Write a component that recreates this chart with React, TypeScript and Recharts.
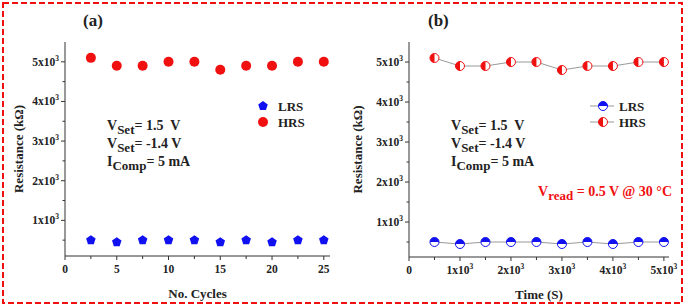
import { ScatterChart, Scatter, XAxis, YAxis } from 'recharts'

// panel (a): resistance vs. switching cycle
const cycles = [2.5, 5, 7.5, 10, 12.5, 15, 17.5, 20, 22.5, 25]
const lrsCycle = [500, 450, 500, 500, 500, 450, 500, 450, 500, 500]
const hrsCycle = [5100, 4900, 4900, 5000, 5000, 4800, 4900, 4900, 5000, 5000]

// panel (b): retention vs. time
const times = [500, 1000, 1500, 2000, 2500, 3000, 3500, 4000, 4500, 5000]
const lrsTime = [500, 450, 500, 500, 500, 450, 500, 450, 500, 500]
const hrsTime = [5100, 4900, 4900, 5000, 5000, 4800, 4900, 4900, 5000, 5000]

const yTicks = [500, 1000, 1500, 2000, 2500, 3000, 3500, 4000, 4500, 5000]
const cycleTicks = [0, 2.5, 5, 7.5, 10, 12.5, 15, 17.5, 20, 22.5, 25]
const timeTicks = [0, 500, 1000, 1500, 2000, 2500, 3000, 3500, 4000, 4500, 5000]

const FONT = '"Liberation Serif", "Times New Roman", serif'
const AXIS = '#333'
const RED = '#f01010'
const BLUE = '#1010f0'

const toPts = (xs: number[], ys: number[]) => xs.map((x, i) => ({ x, y: ys[i] }))

function Pow({ n, size = 11.5 }: { n: string; size?: number }) {
  return (
    <>
      {n}x10<tspan dy={-5} fontSize={size * 0.65}>3</tspan>
    </>
  )
}

function YTick({ x, y, payload }: any) {
  const v = payload.value
  const major = v % 1000 === 0
  return (
    <g>
      <line x1={x} x2={x - (major ? 4 : 2.5)} y1={y} y2={y} stroke={AXIS} />
      {major && (
        <text x={x - 6} y={y + 4} textAnchor="end" fontFamily={FONT} fontWeight="bold" fontSize={11.5} fill="#222">
          <Pow n={String(v / 1000)} />
        </text>
      )}
    </g>
  )
}

function makeXTick(step: number, pow: boolean) {
  return function XTick({ x, y, payload }: any) {
    const v = payload.value
    const major = v % step === 0
    return (
      <g>
        <line x1={x} x2={x} y1={y} y2={y + (major ? 4 : 3)} stroke={AXIS} />
        {major && (
          <text x={x} y={y + 17} textAnchor="middle" fontFamily={FONT} fontWeight="bold" fontSize={11.5} fill="#222">
            {pow && v !== 0 ? <Pow n={String(v / 1000)} /> : String(v)}
          </text>
        )}
      </g>
    )
  }
}

const yLabel = (dx: number) => (p: any) => {
  const vb = p.viewBox
  const cx = vb.x + dx
  const cy = vb.y + vb.height / 2
  return (
    <text x={cx} y={cy} transform={`rotate(-90 ${cx} ${cy})`} textAnchor="middle" dominantBaseline="central"
      fontFamily={FONT} fontWeight="bold" fontSize={13} fill="#222">
      Resistance (kΩ)
    </text>
  )
}

function Pentagon({ cx, cy }: any) {
  const r = 5
  const pts = [0, 1, 2, 3, 4]
    .map((i) => {
      const a = -Math.PI / 2 + (i * 2 * Math.PI) / 5
      return `${cx + r * Math.cos(a)},${cy + r * Math.sin(a)}`
    })
    .join(' ')
  return <polygon points={pts} fill={BLUE} />
}

function RedDot({ cx, cy }: any) {
  return <circle cx={cx} cy={cy} r={5} fill={RED} />
}

// half-filled circles used in panel (b)
function HalfTop({ cx, cy }: any) {
  const r = 4.5
  return (
    <g>
      <circle cx={cx} cy={cy} r={r} fill="#fff" stroke={BLUE} strokeWidth={1} />
      <path d={`M${cx - r},${cy} A${r},${r} 0 0 1 ${cx + r},${cy} Z`} fill={BLUE} />
    </g>
  )
}

function HalfLeft({ cx, cy }: any) {
  const r = 4.5
  return (
    <g>
      <circle cx={cx} cy={cy} r={r} fill="#fff" stroke={RED} strokeWidth={1} />
      <path d={`M${cx},${cy + r} A${r},${r} 0 0 1 ${cx},${cy - r} Z`} fill={RED} />
    </g>
  )
}

const legendText = { fontFamily: FONT, fontWeight: 'bold' as const, fontSize: 13, color: '#222', whiteSpace: 'nowrap' as const }

function LegendA() {
  return (
    <div style={{ position: 'absolute', left: 256, top: 99, lineHeight: '16px' }}>
      <div style={legendText}>
        <svg width={14} height={12} style={{ verticalAlign: -1, marginRight: 8 }}><Pentagon cx={7} cy={6} /></svg>LRS
      </div>
      <div style={legendText}>
        <svg width={14} height={12} style={{ verticalAlign: -1, marginRight: 8 }}><RedDot cx={7} cy={6} /></svg>HRS
      </div>
    </div>
  )
}

function LegendB() {
  return (
    <div style={{ position: 'absolute', left: 590, top: 99, lineHeight: '16px' }}>
      <div style={legendText}>
        <svg width={24} height={12} style={{ verticalAlign: -1, marginRight: 5 }}>
          <line x1={0} x2={24} y1={6} y2={6} stroke="#999" /><HalfTop cx={13} cy={6} />
        </svg>LRS
      </div>
      <div style={legendText}>
        <svg width={24} height={12} style={{ verticalAlign: -1, marginRight: 5 }}>
          <line x1={0} x2={24} y1={6} y2={6} stroke="#999" /><HalfLeft cx={13} cy={6} />
        </svg>HRS
      </div>
    </div>
  )
}

const annot: React.CSSProperties = {
  position: 'absolute', fontFamily: FONT, fontWeight: 'bold', fontSize: 14, color: '#222', whiteSpace: 'nowrap', lineHeight: '18px',
}
const sub: React.CSSProperties = { fontSize: 13, verticalAlign: -4, lineHeight: 0 }

function Conditions({ left }: { left: number }) {
  return (
    <div style={{ ...annot, left, top: 117 }}>
      <div>V<span style={sub}>Set</span>= 1.5&nbsp; V</div>
      <div>V<span style={sub}>Set</span>= -1.4 V</div>
      <div>I<span style={sub}>Comp</span>= 5 mA</div>
    </div>
  )
}

export default function App() {
  return (
    <div style={{ position: 'relative', width: 685, height: 307, background: '#fff', overflow: 'hidden' }}>
      <style>{'body{margin:0}'}</style>

      <div style={{ position: 'absolute', left: 0, top: 0 }}>
        <ScatterChart width={342} height={307} margin={{ top: 42, right: 12, bottom: 21, left: 5 }}>
          <XAxis xAxisId="b" dataKey="x" type="number" domain={[0, 25.6]} ticks={cycleTicks} interval={0}
            stroke={AXIS} tickSize={0} tickMargin={0} tickLine={false} tick={makeXTick(5, false)} height={30}
            label={{ value: 'No. Cycles', position: 'insideBottom', offset: -12, style: { fontFamily: FONT, fontWeight: 'bold', fontSize: 13, fill: '#222' } }} />
          <XAxis xAxisId="t" orientation="top" type="number" domain={[0, 25.6]} stroke={AXIS} tick={false} tickLine={false} height={0} />
          <YAxis yAxisId="l" dataKey="y" type="number" domain={[100, 5500]} ticks={yTicks} interval={0}
            stroke={AXIS} tickSize={0} tickMargin={0} tickLine={false} tick={YTick} width={60} label={{ content: yLabel(13) }} />
          <YAxis yAxisId="r" orientation="right" type="number" domain={[100, 5500]} stroke={AXIS} tick={false} tickLine={false} width={0} />
          <Scatter name="LRS" xAxisId="b" yAxisId="l" data={toPts(cycles, lrsCycle)} shape={Pentagon} isAnimationActive={false} />
          <Scatter name="HRS" xAxisId="b" yAxisId="l" data={toPts(cycles, hrsCycle)} shape={RedDot} isAnimationActive={false} />
        </ScatterChart>
      </div>

      <div style={{ position: 'absolute', left: 342, top: 0 }}>
        <ScatterChart width={343} height={307} margin={{ top: 42, right: 16, bottom: 20, left: 7 }}>
          <XAxis xAxisId="b" dataKey="x" type="number" domain={[0, 5100]} ticks={timeTicks} interval={0}
            stroke={AXIS} tickSize={0} tickMargin={0} tickLine={false} tick={makeXTick(1000, true)} height={30}
            label={{ value: 'Time (S)', position: 'insideBottom', offset: -12, style: { fontFamily: FONT, fontWeight: 'bold', fontSize: 13, fill: '#222' } }} />
          <XAxis xAxisId="t" orientation="top" type="number" domain={[0, 5100]} stroke={AXIS} tick={false} tickLine={false} height={0} />
          <YAxis yAxisId="l" dataKey="y" type="number" domain={[125, 5500]} ticks={yTicks} interval={0}
            stroke={AXIS} tickSize={0} tickMargin={0} tickLine={false} tick={YTick} width={60} label={{ content: yLabel(8) }} />
          <YAxis yAxisId="r" orientation="right" type="number" domain={[125, 5500]} stroke={AXIS} tick={false} tickLine={false} width={0} />
          <Scatter name="LRS" xAxisId="b" yAxisId="l" data={toPts(times, lrsTime)} shape={HalfTop}
            line={{ stroke: '#999', strokeWidth: 1 }} lineType="joint" isAnimationActive={false} />
          <Scatter name="HRS" xAxisId="b" yAxisId="l" data={toPts(times, hrsTime)} shape={HalfLeft}
            line={{ stroke: '#999', strokeWidth: 1 }} lineType="joint" isAnimationActive={false} />
        </ScatterChart>
      </div>

      <LegendA />
      <LegendB />
      <div style={{ ...annot, left: 83, top: 12, fontSize: 17 }}>(a)</div>
      <div style={{ ...annot, left: 428, top: 12, fontSize: 17 }}>(b)</div>
      <Conditions left={107} />
      <Conditions left={451} />
      <div style={{ ...annot, left: 538, top: 183, color: RED }}>
        V<span style={sub}>read</span> = 0.5 V @ 30 °C
      </div>

      <svg width={685} height={307} style={{ position: 'absolute', left: 0, top: 0, pointerEvents: 'none' }}>
        <rect x={3} y={3} width={679} height={300} fill="none" stroke={RED} strokeWidth={2} strokeDasharray="6 3" />
      </svg>
    </div>
  )
}
